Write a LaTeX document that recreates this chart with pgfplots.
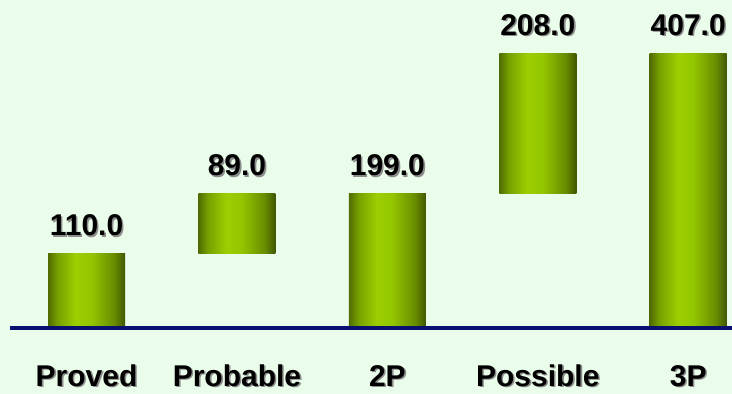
\documentclass[border=0pt]{standalone}
\usepackage{pgfplots}
\pgfplotsset{compat=1.18}
\usepackage{fontspec}
\setmainfont{Liberation Sans}
\definecolor{bg}{RGB}{234,252,234}
\definecolor{dk1}{RGB}{80,108,0}
\definecolor{md1}{RGB}{118,160,0}
\definecolor{lt}{RGB}{156,206,0}
\definecolor{lt2}{RGB}{148,198,0}
\definecolor{md2}{RGB}{104,140,0}
\definecolor{dk2}{RGB}{64,86,0}
\definecolor{navyline}{RGB}{10,16,112}
\pgfdeclarehorizontalshading{barshade}{100bp}{color(0bp)=(dk1); color(25bp)=(dk1); color(31bp)=(md1); color(43bp)=(lt); color(53bp)=(lt2); color(68bp)=(md2); color(75bp)=(dk2); color(100bp)=(dk2)}
\newcommand\shadowtext[1]{\makebox[0pt][l]{\hspace{1.6pt}\raisebox{-1.6pt}{\textcolor{black!45}{#1}}}#1}
\pgfplotsset{common/.style={
  at={(0pt,0pt)}, anchor=south west,
  scale only axis, width=722pt, height=328pt,
  xmin=-0.509, xmax=4.291, ymin=0, ymax=485.9,
  bar width=77pt, clip=false}}
\newcommand\onebar[3]{%
\begin{axis}[common, hide axis, ybar stacked]
\addplot[draw=none, fill=none] coordinates {(#1,#2)};
\addplot[draw=none, shading=barshade] coordinates {(#1,#3)};
\end{axis}}
\begin{document}
\begin{tikzpicture}
\fill[bg] (-10pt,-66pt) rectangle (722pt,328pt);
\path[use as bounding box] (-10pt,-66pt) rectangle (722pt,328pt);
% floating bars: x, base, height
\onebar{0}{0}{110}
\onebar{1}{110}{89}
\onebar{2}{0}{199}
\onebar{3}{199}{208}
\onebar{4}{0}{407}
\begin{axis}[
  common,
  ybar, bar shift=0pt,
  axis y line=none,
  axis x line*=bottom,
  x axis line style={navyline, line width=3.4pt, -},
  xtick={0,1,2,3,4},
  xticklabels={\shadowtext{Proved},\shadowtext{Probable},\shadowtext{2P},\shadowtext{Possible},\shadowtext{3P}},
  major tick length=0pt,
  xticklabel style={anchor=base, yshift=-58pt, font=\fontsize{30}{32}\selectfont\bfseries},
]
% invisible bars at the top of each floating bar, carrying the value labels
\addplot[draw=none, fill=none,
  point meta=explicit symbolic,
  nodes near coords={\shadowtext{\pgfplotspointmeta}},
  every node near coord/.append style={anchor=base, yshift=18pt, font=\fontsize{30}{32}\selectfont\bfseries, text=black}]
  coordinates {(0,110)[110.0] (1,199)[89.0] (2,199)[199.0] (3,407)[208.0] (4,407)[407.0]};
\end{axis}
\end{tikzpicture}
\end{document}
